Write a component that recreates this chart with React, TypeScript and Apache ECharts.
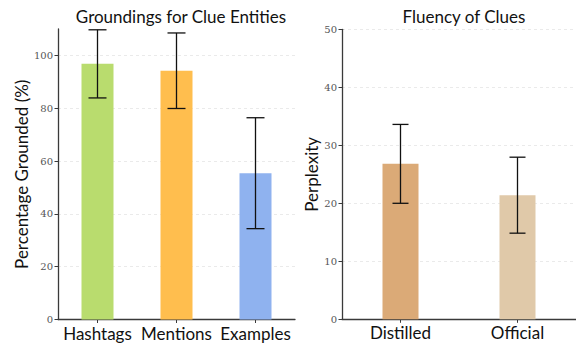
import React, { useEffect, useRef } from "react";
import * as echarts from "echarts";

const groundCategories = ["Hashtags", "Mentions", "Examples"];
const groundValues = [96.8, 94.2, 55.4];
const groundErrors = [12.9, 14.3, 21.0];
const groundColors = ["#b9dc6e", "#ffbe4e", "#8fb2ef"];
const groundTicks = [0, 20, 40, 60, 80, 100];

const fluencyCategories = ["Distilled", "Official"];
const fluencyValues = [26.8, 21.4];
const fluencyErrors = [6.8, 6.55];
const fluencyColors = ["#dbaa77", "#e0c9a9"];
const fluencyTicks = [0, 10, 20, 30, 40, 50];

const serifFont = "'DejaVu Serif', 'Liberation Serif', serif";
const sansFont = "'Lato', 'Liberation Sans', sans-serif";
const axisColor = "#3a3a3a";

function errorRender(cap: number) {
  return (params: any, api: any) => {
    const x = api.value(0);
    const m = api.value(1);
    const e = api.value(2);
    const top = api.coord([x, m + e]);
    const bot = api.coord([x, m - e]);
    const style = { stroke: "#111", lineWidth: 1.3 };
    return {
      type: "group",
      children: [
        { type: "line", shape: { x1: top[0], y1: top[1], x2: bot[0], y2: bot[1] }, style },
        { type: "line", shape: { x1: top[0] - cap, y1: top[1], x2: top[0] + cap, y2: top[1] }, style },
        { type: "line", shape: { x1: bot[0] - cap, y1: bot[1], x2: bot[0] + cap, y2: bot[1] }, style },
      ],
    };
  };
}

function yAxisCfg(gridIndex: number, max: number, interval: number, ticks: number[], name: string, nameGap: number) {
  return {
    type: "value",
    gridIndex,
    min: 0,
    max,
    interval,
    name,
    nameLocation: "middle",
    nameGap,
    nameTextStyle: { fontFamily: sansFont, fontSize: 17, color: "#111" },
    axisLine: { show: true, lineStyle: { color: axisColor, width: 1.3 } },
    axisTick: { show: true, length: 3.5, customValues: ticks, lineStyle: { color: axisColor, width: 1 } },
    axisLabel: { customValues: ticks, fontFamily: serifFont, fontSize: 10, color: "#555", margin: 5 },
    splitLine: {
      show: true,
      lineStyle: {
        type: [3, 3],
        width: 0.8,
        color: ["#e4e4e4", "#e4e4e4", "#e4e4e4", "#e4e4e4", "#e4e4e4", "#e4e4e4", "rgba(0,0,0,0)"],
      },
    },
  };
}

function xAxisCfg(gridIndex: number, cats: string[]) {
  return {
    type: "category",
    gridIndex,
    data: cats,
    axisLine: { show: true, lineStyle: { color: axisColor, width: 1.3 } },
    axisTick: { show: true, alignWithLabel: true, length: 3.5, lineStyle: { color: axisColor, width: 1 } },
    axisLabel: { interval: 0, fontFamily: sansFont, fontSize: 17, color: "#111", margin: 5 },
    splitLine: { show: false },
  };
}

export default function App() {
  const ref = useRef<HTMLDivElement>(null);
  useEffect(() => {
    document.body.style.margin = "0";
    if (!ref.current) return;
    const chart = echarts.init(ref.current, null, { renderer: "svg" });
    chart.setOption({
      animation: false,
      backgroundColor: "#ffffff",
      title: [
        {
          text: "Groundings for Clue Entities",
          left: 176,
          top: 3,
          textAlign: "center",
          textStyle: { fontFamily: sansFont, fontSize: 17, fontWeight: "normal", color: "#111" },
        },
        {
          text: "Fluency of Clues",
          left: 459,
          top: 3,
          textAlign: "center",
          textStyle: { fontFamily: sansFont, fontSize: 17, fontWeight: "normal", color: "#111" },
        },
      ],
      grid: [
        { left: 58, top: 29, width: 237, height: 290.5 },
        { left: 342, top: 29.3, width: 234, height: 290 },
      ],
      xAxis: [xAxisCfg(0, groundCategories), xAxisCfg(1, fluencyCategories)],
      yAxis: [
        yAxisCfg(0, 110, 20, groundTicks, "Percentage Grounded (%)", 28),
        yAxisCfg(1, 50, 10, fluencyTicks, "Perplexity", 22),
      ],
      series: [
        {
          type: "bar",
          xAxisIndex: 0,
          yAxisIndex: 0,
          barWidth: 32,
          data: groundValues.map((v, i) => ({ value: v, itemStyle: { color: groundColors[i] } })),
        },
        {
          type: "custom",
          xAxisIndex: 0,
          yAxisIndex: 0,
          renderItem: errorRender(9),
          data: groundValues.map((v, i) => [i, v, groundErrors[i]]),
          z: 5,
        },
        {
          type: "bar",
          xAxisIndex: 1,
          yAxisIndex: 1,
          barWidth: 36,
          data: fluencyValues.map((v, i) => ({ value: v, itemStyle: { color: fluencyColors[i] } })),
        },
        {
          type: "custom",
          xAxisIndex: 1,
          yAxisIndex: 1,
          renderItem: errorRender(8),
          data: fluencyValues.map((v, i) => [i, v, fluencyErrors[i]]),
          z: 5,
        },
      ],
    });
    return () => chart.dispose();
  }, []);
  return <div ref={ref} style={{ width: 576, height: 345 }} />;
}
